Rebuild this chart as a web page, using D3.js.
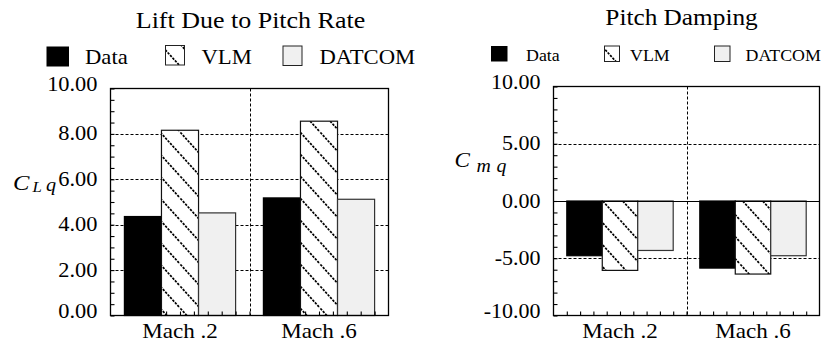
<!DOCTYPE html>
<html>
<head>
<meta charset="utf-8">
<script src="https://cdn.jsdelivr.net/npm/d3@7"></script>
<style>
  html, body { margin: 0; padding: 0; background: #fff; }
  svg { display: block; }
</style>
</head>
<body>
<script>
// ---- data ----
const categories = ["Mach .2", "Mach .6"];
const seriesNames = ["Data", "VLM", "DATCOM"];

// Lift due to pitch rate, C_Lq
const liftData   = [4.36, 5.18];
const liftVLM    = [8.16, 8.56];
const liftDatcom = [4.52, 5.12];
const liftTicks  = [0, 2, 4, 6, 8, 10];

// Pitch damping, C_mq
const dampData   = [-4.78, -5.86];
const dampVLM    = [-6.06, -6.38];
const dampDatcom = [-4.32, -4.78];
const dampTicks  = [-10, -5, 0, 5, 10];

// ---- drawing ----
const FONT = "'Liberation Serif', 'Times New Roman', Times, serif";
const W = 831, H = 345;

const svg = d3.select("body").append("svg")
  .attr("width", W).attr("height", H)
  .attr("font-family", FONT);

// diagonal hatch used for the VLM bars
const defs = svg.append("defs");
const hatch = defs.append("pattern")
  .attr("id", "hatch")
  .attr("patternUnits", "userSpaceOnUse")
  .attr("width", 20).attr("height", 22);
hatch.append("rect").attr("width", 20).attr("height", 22).attr("fill", "#fff");
hatch.append("path")
  .attr("d", "M-2,-2.2 L22,24.2 M-2,19.8 L2,24.2 M18,-2.2 L22,2.2")
  .attr("stroke", "#000").attr("stroke-width", 1.7)
  .attr("stroke-dasharray", "2.4,1.2").attr("fill", "none");

const fills = { Data: "#000", VLM: "url(#hatch)", DATCOM: "#f0f0f0" };
const strokes = { Data: "#000", VLM: "#111", DATCOM: "#333" };

// text placed with a horizontal stretch around its anchor point
function label(parent, x, y, str, size, k, anchor, italic) {
  return parent.append("text")
    .attr("transform", `translate(${x},${y}) scale(${k},1)`)
    .attr("text-anchor", anchor || "start")
    .attr("font-size", size)
    .attr("font-style", italic ? "italic" : "normal")
    .attr("fill", "#000")
    .text(str);
}

function panel(cfg) {
  const g = svg.append("g");
  const { x0, x1, y0, y1 } = cfg;

  const y = d3.scaleLinear().domain(cfg.domain).range([y1, y0]);
  const xBand = d3.scaleBand().domain(categories).range([x0, x1]).padding(0);
  const bw = xBand.bandwidth();
  const xInner = d3.scaleBand().domain(seriesNames)
    .range([0.1 * bw, 0.9 * bw]).padding(0);
  const xCat = d3.scaleLinear().domain([0, categories.length]).range([x0, x1]);

  // title
  label(g, cfg.titleX, cfg.titleY, cfg.title, cfg.titleSize, cfg.titleK, "middle");

  // legend
  cfg.legend.forEach((L, i) => {
    const name = seriesNames[i];
    g.append("rect")
      .attr("x", L.sx).attr("y", L.sy).attr("width", L.sw).attr("height", L.sh)
      .attr("fill", fills[name])
      .attr("stroke", name === "Data" ? "#000" : "#222")
      .attr("stroke-width", name === "Data" ? 0 : 1);
    label(g, L.tx, cfg.legendBaseline, name, cfg.legendSize, cfg.legendK, "start");
  });

  // dashed grid
  const grid = g.append("g")
    .attr("stroke", "#000").attr("stroke-width", 1)
    .attr("stroke-dasharray", "3,2").attr("fill", "none");
  grid.selectAll("line.h").data(cfg.grid).join("line")
    .attr("class", "h")
    .attr("x1", x0).attr("x2", x1)
    .attr("y1", d => Math.round(y(d)) + 0.5).attr("y2", d => Math.round(y(d)) + 0.5);
  grid.selectAll("line.v").data(d3.range(1, categories.length)).join("line")
    .attr("class", "v")
    .attr("x1", d => Math.round(xCat(d)) + 0.5).attr("x2", d => Math.round(xCat(d)) + 0.5)
    .attr("y1", y0).attr("y2", y1);

  // bars
  const rows = [];
  categories.forEach((c, ci) => {
    seriesNames.forEach((s, si) => rows.push({ c, s, v: cfg.values[si][ci] }));
  });
  g.append("g").selectAll("rect").data(rows).join("rect")
    .attr("x", d => xBand(d.c) + xInner(d.s))
    .attr("width", xInner.bandwidth())
    .attr("y", d => Math.min(y(d.v), y(0)))
    .attr("height", d => Math.abs(y(d.v) - y(0)))
    .attr("fill", d => fills[d.s])
    .attr("stroke", d => strokes[d.s])
    .attr("stroke-width", 1.2);

  // zero line
  if (cfg.zeroLine) {
    g.append("line")
      .attr("x1", x0).attr("x2", x1)
      .attr("y1", Math.round(y(0)) + 0.5).attr("y2", Math.round(y(0)) + 0.5)
      .attr("stroke", "#000").attr("stroke-width", 1.2);
  }

  // y axis: minor + major ticks inside, labels for majors
  const minor = d3.range(cfg.domain[0], cfg.domain[1] + cfg.minor / 2, cfg.minor);
  const yAxis = d3.axisLeft(y)
    .tickValues(minor)
    .tickSize(-4)
    .tickPadding(13)
    .tickFormat(d => cfg.ticks.includes(d) ? d.toFixed(2) : "");
  const ya = g.append("g").attr("transform", `translate(${x0},0)`).call(yAxis);
  ya.select(".domain").remove();
  ya.attr("font-family", FONT).attr("font-size", cfg.tickSize);
  ya.selectAll(".tick line").attr("stroke", "#000").attr("stroke-width", 1.1);
  ya.selectAll(".tick text").each(function (d) {
    const t = d3.select(this);
    const x = +t.attr("x");
    const isEnd = d === cfg.domain[0] || d === cfg.domain[1];
    t.attr("x", 0)
      .attr("fill", "#000")
      .attr("dy", isEnd ? "0.08em" : "0.3em")
      .attr("transform", `translate(${x},0) scale(${cfg.tickK},1)`);
  });

  // bottom axis: tenth-of-category ticks
  const xAxis = d3.axisBottom(xCat)
    .tickValues(d3.range(1, categories.length * 10).map(i => i / 10))
    .tickSize(-4)
    .tickFormat(() => "");
  const xa = g.append("g").attr("transform", `translate(0,${y1})`).call(xAxis);
  xa.select(".domain").remove();
  xa.selectAll(".tick line").attr("stroke", "#000").attr("stroke-width", 1.1);

  // category labels
  categories.forEach(c => {
    label(g, xBand(c) + bw / 2, cfg.catBaseline, c, cfg.catSize, cfg.catK, "middle");
  });

  // frame
  g.append("rect")
    .attr("x", x0).attr("y", y0).attr("width", x1 - x0).attr("height", y1 - y0)
    .attr("fill", "none").attr("stroke", "#000").attr("stroke-width", 1.3);

  // axis symbol
  cfg.symbol.forEach(p => label(g, p.x, p.y, p.t, p.size, cfg.tickK, "start", true));
}

panel({
  x0: 110.5, x1: 388.5, y0: 88.5, y1: 315.5,
  domain: [0, 10], ticks: liftTicks, minor: 0.5, grid: [2, 4, 6, 8],
  values: [liftData, liftVLM, liftDatcom],
  zeroLine: false,
  title: "Lift Due to Pitch Rate", titleX: 250.5, titleY: 28, titleSize: 23, titleK: 1.13,
  legendBaseline: 63.5, legendSize: 21, legendK: 1.08,
  legend: [
    { sx: 46.5, sy: 46.5, sw: 22.5, sh: 20, tx: 85 },
    { sx: 165.5, sy: 45.5, sw: 19, sh: 19.5, tx: 201.5 },
    { sx: 283, sy: 46, sw: 19, sh: 19.5, tx: 319.5 }
  ],
  tickSize: 20, tickK: 1.12,
  catBaseline: 338, catSize: 21, catK: 1.1,
  symbol: [
    { x: 13, y: 189.5, t: "C", size: 22 },
    { x: 32.5, y: 192, t: "L", size: 15 },
    { x: 46, y: 191, t: "q", size: 18 }
  ]
});

panel({
  x0: 553.5, x1: 819.5, y0: 86.5, y1: 315.5,
  domain: [-10, 10], ticks: dampTicks, minor: 1, grid: [-5, 5],
  values: [dampData, dampVLM, dampDatcom],
  zeroLine: true,
  title: "Pitch Damping", titleX: 681.5, titleY: 25, titleSize: 23, titleK: 1.1,
  legendBaseline: 61, legendSize: 17, legendK: 1.05,
  legend: [
    { sx: 491, sy: 46, sw: 16.5, sh: 15.5, tx: 526 },
    { sx: 604.5, sy: 46, sw: 15, sh: 15.5, tx: 630 },
    { sx: 714.5, sy: 46, sw: 15.5, sh: 15.5, tx: 745.5 }
  ],
  tickSize: 20, tickK: 1.1,
  catBaseline: 338, catSize: 21, catK: 1.1,
  symbol: [
    { x: 454.5, y: 166.5, t: "C", size: 21 },
    { x: 476.5, y: 171.5, t: "m", size: 18 },
    { x: 496.5, y: 171.5, t: "q", size: 18 }
  ]
});
</script>
</body>
</html>
